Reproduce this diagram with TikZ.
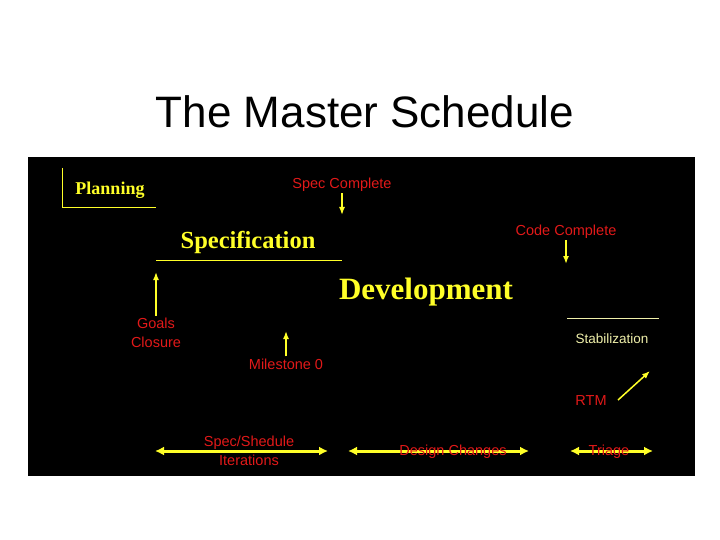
\documentclass[tikz,border=0pt]{standalone}
\usepackage{fontspec}
\setmainfont{Liberation Sans}
\newfontfamily\timesfont{Liberation Serif}
\usetikzlibrary{arrows.meta,positioning}
\definecolor{phaseyellow}{RGB}{255,255,40}
\definecolor{markred}{RGB}{225,25,25}
\definecolor{paleyellow}{RGB}{240,240,170}

\begin{document}
\begin{tikzpicture}[x=1pt,y=-1pt]
      \useasboundingbox (0,0) rectangle (720,540);
      \fill[black] (28,157) rectangle (695,476);
      \node (title) at (365,112) {\fontsize{44}{50}\selectfont The Master Schedule};
      % phases
      \begin{scope}[every node/.style={text=phaseyellow,inner sep=1pt}]
        \node (plan) at (110,190) {\timesfont\bfseries\fontsize{18}{20}\selectfont Planning};
        \node (spec) at (248,242) {\timesfont\bfseries\fontsize{24.5}{26}\selectfont Specification};
        \node (dev) at (426,292) {\timesfont\bfseries\fontsize{31}{33}\selectfont Development};
        \node (stab) [text=paleyellow] at (612,339) {\fontsize{13.5}{15}\selectfont Stabilization};
      \end{scope}
      \draw[phaseyellow, line width=1pt] (62,168) -- (62,208) -- (156,208);
      \draw[phaseyellow, line width=1pt] (156,260) -- (342,260);
      \draw[paleyellow, line width=1pt] (567,318) -- (659,318);
      % milestones
      \begin{scope}[every node/.style={text=markred,inner sep=2pt,align=center,
          font=\fontsize{14.5}{19}\selectfont}]
        \node (sc) at (342,184.5) {Spec Complete};
        \node (cc) at (566,231.5) {Code Complete};
        \node (gc) at (156,333) {Goals\\Closure};
        \node (m0) at (286,364) {Milestone 0};
        \node (rtm) at (591,400.5) {RTM};
      \end{scope}
      \coordinate (sctip) at (342,215);
      \coordinate (cctip) at (566,264);
      \coordinate (gctip) at (156,272);
      \coordinate (m0tip) at (286,331);
      \coordinate (rtmtail) at (618,400);
      \coordinate (rtmtip) at (650,371);
      \begin{scope}
        [every edge/.style={draw=phaseyellow, line width=1.5pt,
          -{Latex[length=8pt,width=6pt]}}]
        \path (sc) edge (sctip);
        \path (cc) edge (cctip);
        \path (gc) edge (gctip);
        \path (m0) edge (m0tip);
        \path (rtmtail) edge (rtmtip);
      \end{scope}
      % iterations
      \coordinate (it1a) at (155,451);
      \coordinate (it1b) at (328,451);
      \coordinate (it2a) at (348,451);
      \coordinate (it2b) at (529,451);
      \coordinate (it3a) at (570,451);
      \coordinate (it3b) at (653,451);
      \begin{scope}
        [every edge/.style={draw=phaseyellow, line width=3pt,
          {Latex[length=9pt,width=9pt]}-{Latex[length=9pt,width=9pt]}}]
        \path (it1a) edge (it1b);
        \path (it2a) edge (it2b);
        \path (it3a) edge (it3b);
      \end{scope}
      \begin{scope}[every node/.style={text=markred,inner sep=1pt,align=center,
          font=\fontsize{14.5}{19}\selectfont}]
        \node (ssi) at (249,450.5) {Spec/Shedule\\Iterations};
        \node (dc) at (453,452) {Design Changes};
        \node (tri) at (609,452) {Triage};
      \end{scope}
    \end{tikzpicture}
\end{document}
